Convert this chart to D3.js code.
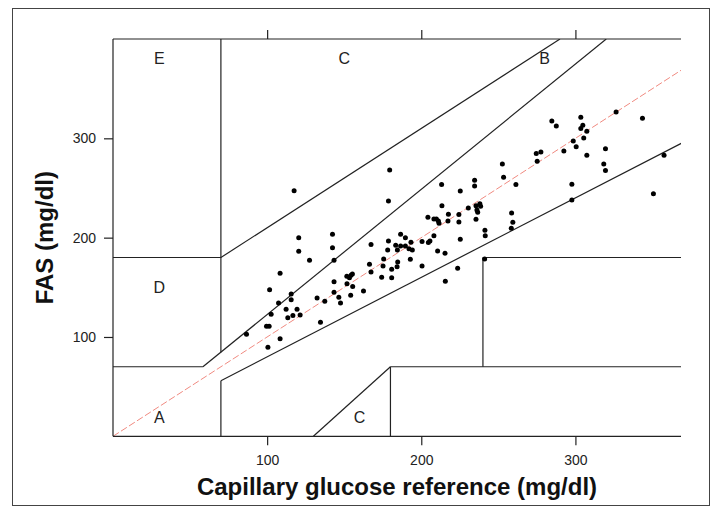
<!DOCTYPE html>
<html>
<head>
<meta charset="utf-8">
<script src="https://cdn.jsdelivr.net/npm/d3@7"></script>
<style>
  body { margin: 0; background: #fff; }
  svg { font-family: "Liberation Sans", Arial, Helvetica, sans-serif; }
</style>
</head>
<body>
<svg id="chart" width="713" height="510"></svg>
<script>
// reference glucose (x) vs FAS (y), mg/dl
const refValues = [
  120.5, 142.4, 120.5, 142.4, 127.5, 143.4, 108.4, 167.4, 175.6, 166.4,
  167.4, 174.3, 101.6, 143.4, 151.7, 153.4, 154.4, 155.3, 151.8, 155.5,
  143.4, 162.5, 154.2, 146.5, 147.6, 132.4, 137.4, 115.6, 115.6, 107.4,
  102.6, 112.3, 119.4, 116.7, 113.4, 121.4, 134.6, 99.6, 101.3, 86.6,
  108.4, 100.5, 117.5,
  179.5, 178.7, 252.6, 253.4, 261.4, 213.2, 234.6, 234.6, 225.3, 213.4,
  204.3, 208.2, 209.8, 211.1, 211.5, 217.6, 217.3, 224.4, 224.4, 230.5,
  235.5, 238.0, 238.5, 236.1, 236.6, 235.5, 258.6, 259.4, 258.4, 241.3,
  241.5, 225.3, 208.2, 205.6, 204.6, 200.5, 210.6, 215.4, 193.3, 178.7,
  186.6, 189.7, 183.4, 186.6, 189.7, 192.0, 194.2, 178.2, 184.5, 192.9,
  184.7, 184.3, 175.2, 180.8, 180.8, 200.5, 223.6, 215.6, 241.1,
  326.4, 343.5, 284.7, 287.6, 303.5, 304.8, 303.5, 307.4, 305.4, 298.6,
  300.5, 319.5, 307.4, 292.5, 274.6, 277.6, 275.2, 318.4, 319.5, 357.5,
  297.7, 297.7, 350.6
];
const fasValues = [
  200.0, 203.4, 186.3, 189.9, 177.2, 177.2, 164.1, 193.0, 178.5, 173.2,
  165.5, 160.1, 147.6, 155.7, 161.1, 159.7, 162.1, 163.4, 153.7, 150.7,
  145.0, 146.3, 142.0, 140.0, 134.2, 139.3, 135.9, 143.3, 137.6, 134.2,
  122.9, 127.9, 127.9, 121.5, 119.4, 122.2, 114.8, 110.8, 110.8, 102.7,
  98.3, 89.6, 247.3,
  268.2, 237.0, 274.2, 260.8, 253.4, 253.4, 257.8, 252.1, 247.0, 232.2,
  220.5, 218.8, 218.8, 216.8, 214.5, 223.6, 216.8, 223.2, 215.8, 229.9,
  232.2, 234.2, 231.6, 227.9, 225.6, 218.5, 224.9, 215.5, 209.5, 207.5,
  202.0, 198.4, 202.0, 196.7, 195.0, 196.0, 186.6, 184.3, 195.4, 196.7,
  203.4, 200.0, 192.3, 191.6, 191.6, 188.9, 187.6, 187.6, 187.6, 178.2,
  175.5, 170.8, 171.5, 168.2, 159.7, 171.5, 169.2, 156.1, 178.5,
  326.6, 320.2, 317.5, 312.5, 321.3, 313.2, 309.8, 307.1, 300.4, 297.4,
  291.6, 289.6, 283.0, 287.3, 284.6, 286.3, 276.9, 274.2, 267.5, 283.0,
  253.8, 238.0, 244.3
];

// Clarke error grid zone boundaries [x1, y1, x2, y2]
const zoneSegments = [
  [0, 70, 58.33, 70],
  [58.33, 70, 320, 400],
  [70, 84.7, 70, 400],
  [0, 180, 70, 180],
  [70, 180, 290, 400],
  [70, 0, 70, 56],
  [70, 56, 400, 320],
  [130, 0, 180, 70],
  [180, 0, 180, 70],
  [180, 70, 400, 70],
  [240, 70, 240, 180],
  [240, 180, 400, 180]
];
const zoneLabels = ['E', 'C', 'B', 'D', 'A', 'C'];
const zoneLabelX = [30, 150, 280, 30, 30, 160];
const zoneLabelY = [380, 380, 380, 150, 19, 19];

const xTicks = [100, 200, 300];
const yTicks = [100, 200, 300];

const svg = d3.select('#chart');
const mLeft = 113, mRight = 681, mTop = 39, mBottom = 436.3;

const x = d3.scaleLinear().domain([0, 368.5]).range([mLeft, mRight]);
const y = d3.scaleLinear().domain([0, 400]).range([mBottom, mTop]);

// outer frame
svg.append('rect')
  .attr('x', 12.5).attr('y', 8.5)
  .attr('width', 697).attr('height', 497)
  .attr('fill', 'none').attr('stroke', '#444').attr('stroke-width', 1);

svg.append('clipPath').attr('id', 'plot-clip')
  .append('rect')
  .attr('x', mLeft).attr('y', mTop)
  .attr('width', mRight - mLeft).attr('height', mBottom - mTop);

const plot = svg.append('g').attr('clip-path', 'url(#plot-clip)');

// identity line
plot.append('line')
  .attr('x1', x(0)).attr('y1', y(0))
  .attr('x2', x(400)).attr('y2', y(400))
  .attr('stroke', '#f08a80').attr('stroke-width', 1)
  .attr('stroke-dasharray', '7,2.5');

plot.selectAll('line.zone')
  .data(zoneSegments)
  .join('line')
  .attr('class', 'zone')
  .attr('x1', d => x(d[0])).attr('y1', d => y(d[1]))
  .attr('x2', d => x(d[2])).attr('y2', d => y(d[3]))
  .attr('stroke', '#222').attr('stroke-width', 1.2);

// frame: left, top, bottom
const frame = svg.append('g')
  .attr('stroke', '#222').attr('stroke-width', 1.2);
frame.append('line').attr('x1', mLeft).attr('y1', mTop).attr('x2', mLeft).attr('y2', mBottom);
frame.append('line').attr('x1', mLeft).attr('y1', mTop).attr('x2', mRight).attr('y2', mTop);
frame.append('line').attr('x1', mLeft).attr('y1', mBottom).attr('x2', mRight).attr('y2', mBottom);

// axes
const xAxis = svg.append('g')
  .attr('transform', `translate(0,${mBottom})`)
  .call(d3.axisBottom(x).tickValues(xTicks).tickSize(9).tickPadding(10));
const xTop = svg.append('g')
  .attr('transform', `translate(0,${mTop})`)
  .call(d3.axisTop(x).tickValues(xTicks).tickSize(9).tickFormat(''));
const yAxis = svg.append('g')
  .attr('transform', `translate(${mLeft},0)`)
  .call(d3.axisLeft(y).tickValues(yTicks).tickSize(9).tickPadding(8));

[xAxis, xTop, yAxis].forEach(g => {
  g.select('.domain').remove();
  g.selectAll('.tick line').attr('stroke', '#222').attr('stroke-width', 1.2);
  g.selectAll('.tick text')
    .attr('fill', '#222')
    .style('font-size', '14px')
    .style('font-family', '"Liberation Sans", Arial, sans-serif');
});

// points
plot.selectAll('circle.pt')
  .data(refValues.map((v, i) => [v, fasValues[i]]))
  .join('circle')
  .attr('class', 'pt')
  .attr('cx', d => x(d[0]))
  .attr('cy', d => y(d[1]))
  .attr('r', 2.5)
  .attr('fill', '#000');

// zone labels
svg.selectAll('text.zone-label')
  .data(zoneLabels)
  .join('text')
  .attr('class', 'zone-label')
  .attr('x', (d, i) => x(zoneLabelX[i]))
  .attr('y', (d, i) => y(zoneLabelY[i]))
  .attr('text-anchor', 'middle')
  .attr('dominant-baseline', 'central')
  .style('font-size', '16px')
  .attr('fill', '#222')
  .text(d => d);

// axis titles
svg.append('text')
  .attr('x', (mLeft + mRight) / 2)
  .attr('y', 495)
  .attr('text-anchor', 'middle')
  .style('font-size', '24px')
  .style('font-weight', 'bold')
  .attr('fill', '#111')
  .text('Capillary glucose reference (mg/dl)');

svg.append('text')
  .attr('transform', `translate(53,${(mTop + mBottom) / 2}) rotate(-90)`)
  .attr('text-anchor', 'middle')
  .style('font-size', '24px')
  .style('font-weight', 'bold')
  .attr('fill', '#111')
  .text('FAS (mg/dl)');
</script>
</body>
</html>
